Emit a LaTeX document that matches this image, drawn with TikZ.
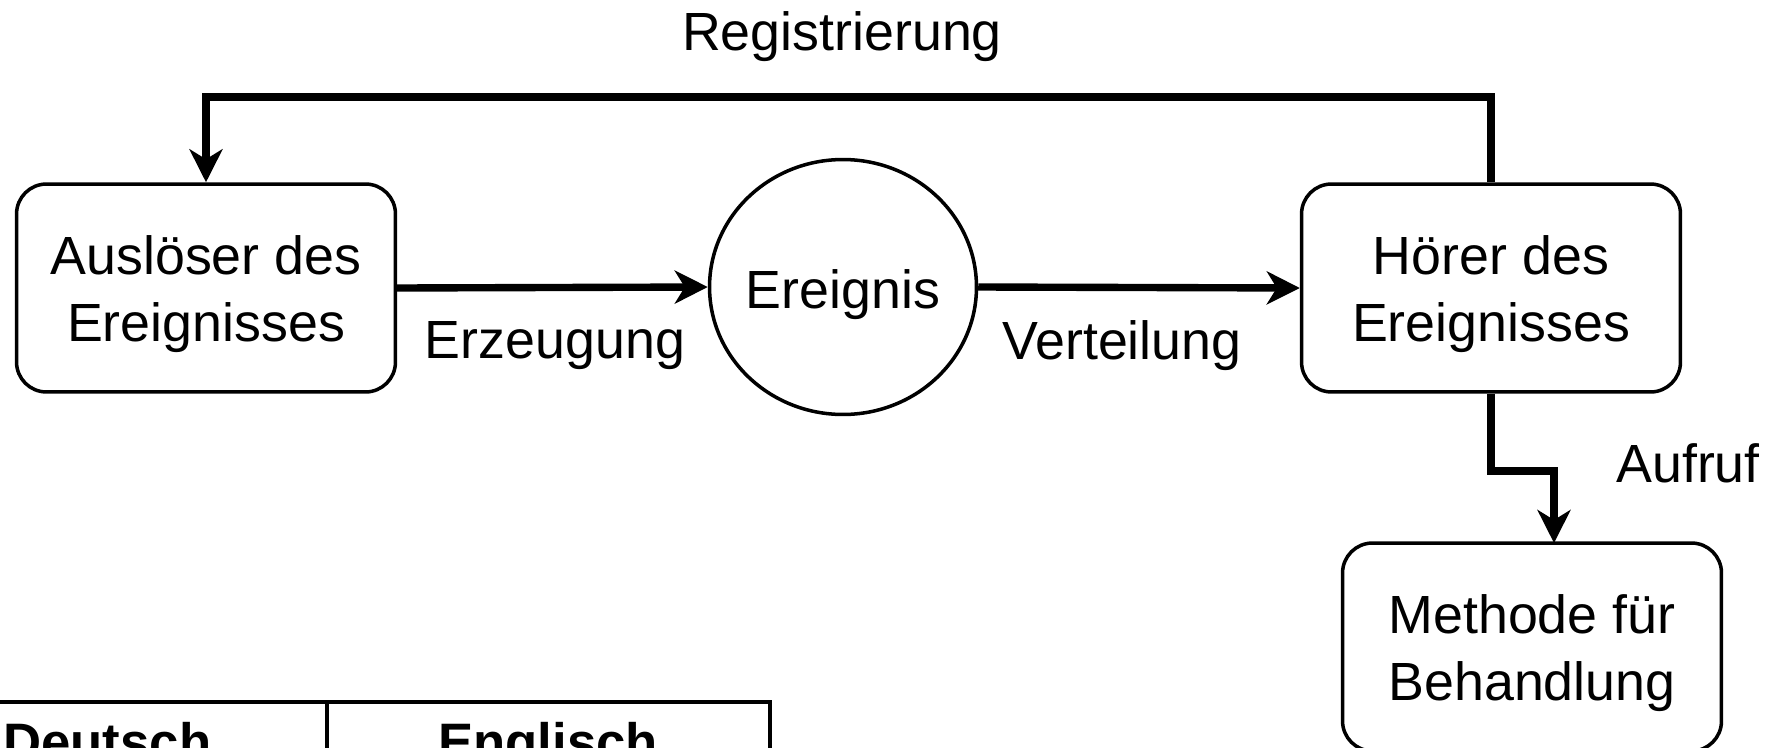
\documentclass[tikz,border=0pt]{standalone}
\usepackage{fontspec}
\setmainfont{Liberation Sans}
\usetikzlibrary{arrows.meta,shapes.geometric}
\begin{document}
\begin{tikzpicture}[x=0.02cm,y=-0.02cm,
  every node/.style={font=\fontsize{30.6pt}{38.5pt}\selectfont},
  box/.style={draw, line width=2pt, rounded corners=0.6cm, minimum width=7.58cm, minimum height=4.16cm, inner sep=0pt},
  boxtxt/.style={align=center, inner sep=0pt},
  evt/.style={draw, ellipse, line width=2pt, minimum width=5.34cm, minimum height=5.1cm, inner sep=0pt},
  conn/.style={line width=4.2pt, -{Stealth[length=0.66cm,width=0.66cm,inset=0.2cm]}},
  lbl/.style={inner sep=0pt},
  tbl/.style={line width=2pt},
  thead/.style={inner sep=0pt, font=\fontsize{30pt}{37pt}\selectfont\bfseries}
]
\useasboundingbox (0,0) rectangle (1780,747);
\clip (0,0) rectangle (1780,747);

\node[box] (aus) at (206,288) {};
\node[boxtxt] (aust) at (206,294) {Auslöser des\\Ereignisses};
\node[evt] (ev) at (843,287) {};
\node[lbl] (evt) at (843,295) {Ereignis};
\node[box] (hor) at (1491,288) {};
\node[boxtxt] (hort) at (1491,294) {Hörer des\\Ereignisses};
\node[box] (met) at (1532,647) {};
\node[boxtxt] (mett) at (1532,653) {Methode für\\Behandlung};

\node[lbl] (reg) at (842,37) {Registrierung};
\node[lbl] (erz) at (555,346) {Erzeugung};
\node[lbl] (ver) at (1122,346) {Verteilung};
\node[lbl] (auf) at (1688,463) {Aufruf};

\coordinate (rt) at (1491,97);
\coordinate (lt) at (206,97);
\coordinate (b1) at (1491,471);
\coordinate (b2) at (1554,471);
\coordinate (b3) at (1554,543);

\draw[conn] (aus.east) -- (ev.west);
\draw[conn] (ev.east) -- (hor.west);
\draw[conn] (hor.north) -- (rt) -- (lt) -- (aus.north);
\draw[conn] (hor.south) -- (b1) -- (b2) -- (b3);

% table
\draw[tbl] (-20,702) -- (770,702) -- (770,800);
\draw[tbl] (327,702) -- (327,800);
\node[thead, anchor=base west] (de) at (3,760) {Deutsch};
\node[thead, anchor=base] (en) at (548,760) {Englisch};
\end{tikzpicture}
\end{document}
